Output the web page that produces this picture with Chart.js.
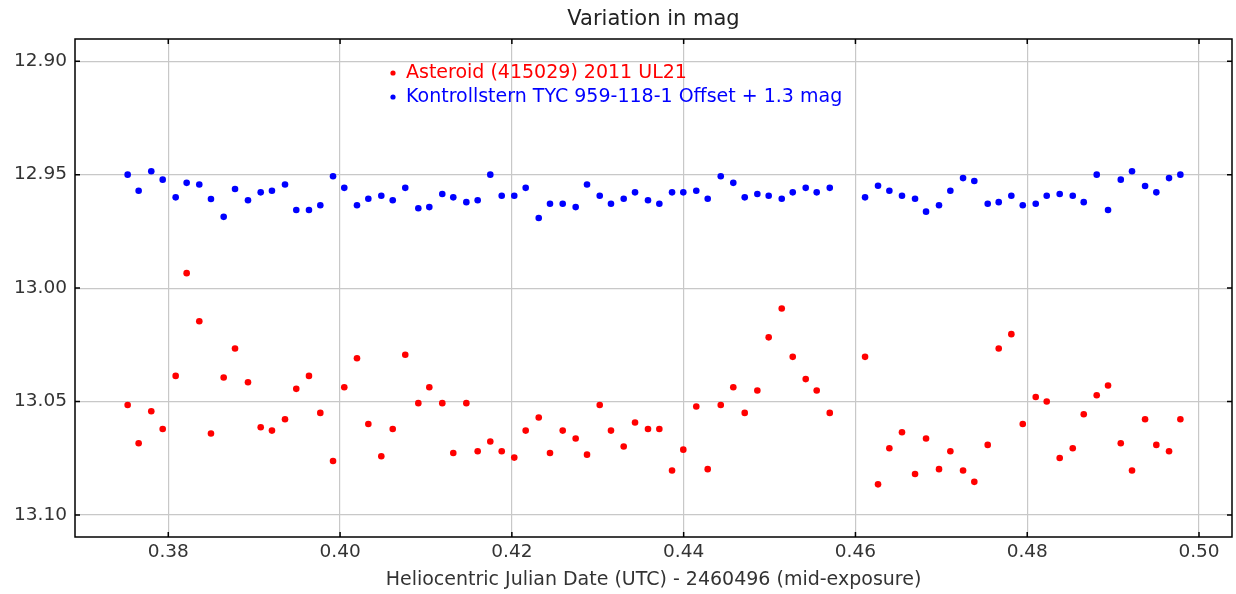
<!DOCTYPE html>
<html>
<head>
<meta charset="utf-8">
<title>Variation in mag</title>
<script src="https://cdn.jsdelivr.net/npm/chart.js@4.4.1/dist/chart.umd.min.js"></script>
<style>
    html, body { margin: 0; padding: 0; background: #fff; }
    #wrap { width: 1236px; height: 594px; }
</style>
</head>
<body>
<div id="wrap"><canvas id="magChart" width="1236" height="594"></canvas></div>
<script>
// HJD - 2460496 (mid-exposure), same for both stars
const hjd = [
    0.37527, 0.37655, 0.37802, 0.37935, 0.38086, 0.38214, 0.38361, 0.38497, 0.38645, 0.38777,
    0.38928, 0.39076, 0.39207, 0.39359, 0.39490, 0.39638, 0.39770, 0.39918, 0.40049, 0.40197,
    0.40329, 0.40480, 0.40613, 0.40759, 0.40911, 0.41039, 0.41190, 0.41318, 0.41470, 0.41602,
    0.41749, 0.41882, 0.42028, 0.42161, 0.42313, 0.42444, 0.42592, 0.42743, 0.42875, 0.43023,
    0.43154, 0.43302, 0.43434, 0.43585, 0.43717, 0.43865, 0.43996, 0.44147, 0.44280, 0.44432,
    0.44578, 0.44711, 0.44858, 0.44990, 0.45142, 0.45270, 0.45421, 0.45549, 0.45701,
    0.46112, 0.46263, 0.46395, 0.46542, 0.46694, 0.46822, 0.46973, 0.47105, 0.47253, 0.47384,
    0.47540, 0.47668, 0.47815, 0.47948, 0.48099, 0.48227, 0.48378, 0.48530, 0.48658, 0.48809,
    0.48941, 0.49089, 0.49220, 0.49372, 0.49503, 0.49651, 0.49783
];

const asteroidMag = [
    13.0515, 13.0684, 13.0543, 13.0621, 13.0387, 12.9934, 13.0146, 13.0641, 13.0394, 13.0266,
    13.0415, 13.0613, 13.0628, 13.0578, 13.0444, 13.0387, 13.0550, 13.0762, 13.0437, 13.0309,
    13.0599, 13.0741, 13.0621, 13.0294, 13.0507, 13.0437, 13.0507, 13.0727, 13.0507, 13.0719,
    13.0676, 13.0719, 13.0747, 13.0628, 13.0570, 13.0727, 13.0628, 13.0663, 13.0734, 13.0515,
    13.0628, 13.0698, 13.0592, 13.0621, 13.0621, 13.0804, 13.0712, 13.0522, 13.0798, 13.0515,
    13.0437, 13.0550, 13.0451, 13.0217, 13.0090, 13.0303, 13.0401, 13.0451, 13.0550,
    13.0303, 13.0865, 13.0706, 13.0635, 13.0819, 13.0663, 13.0798, 13.0719, 13.0804, 13.0854,
    13.0691, 13.0266, 13.0203, 13.0599, 13.0480, 13.0500, 13.0749, 13.0706, 13.0556, 13.0472,
    13.0429, 13.0684, 13.0804, 13.0578, 13.0691, 13.0719, 13.0578
];

// check star, already shifted by +1.3 mag
const checkStarMag = [
    12.9500, 12.9571, 12.9485, 12.9522, 12.9600, 12.9536, 12.9543, 12.9607, 12.9686, 12.9563,
    12.9613, 12.9578, 12.9571, 12.9543, 12.9656, 12.9656, 12.9635, 12.9507, 12.9558, 12.9635,
    12.9606, 12.9593, 12.9613, 12.9558, 12.9648, 12.9643, 12.9585, 12.9600, 12.9621, 12.9613,
    12.9500, 12.9593, 12.9593, 12.9558, 12.9691, 12.9628, 12.9628, 12.9643, 12.9543, 12.9593,
    12.9628, 12.9606, 12.9578, 12.9613, 12.9628, 12.9578, 12.9578, 12.9571, 12.9606, 12.9507,
    12.9536, 12.9600, 12.9585, 12.9593, 12.9606, 12.9578, 12.9558, 12.9578, 12.9558,
    12.9600, 12.9549, 12.9571, 12.9593, 12.9606, 12.9663, 12.9635, 12.9571, 12.9515, 12.9528,
    12.9628, 12.9621, 12.9593, 12.9635, 12.9628, 12.9593, 12.9585, 12.9593, 12.9621, 12.9500,
    12.9656, 12.9522, 12.9485, 12.9550, 12.9578, 12.9515, 12.9500
];

const seriesLabels = ['Asteroid (415029) 2011 UL21', 'Kontrollstern TYC 959-118-1 Offset + 1.3 mag'];
const seriesColors = ['#ff0000', '#0000ff'];

function toPoints(values) {
    return values.map(function(v, i) { return { x: hjd[i], y: v }; });
}

const FONT = '"DejaVu Sans", "Noto Sans", sans-serif';

// black frame round the plot with inward ticks on all four sides
const framePlugin = {
    id: 'frame',
    afterDraw(chart) {
        const ctx = chart.ctx;
        const a = chart.chartArea;
        const xs = chart.scales.x;
        const ys = chart.scales.y;
        const len = 5;
        ctx.save();
        ctx.strokeStyle = '#000';
        ctx.lineWidth = 1.5;
        ctx.strokeRect(a.left, a.top, a.right - a.left, a.bottom - a.top);
        ctx.beginPath();
        xs.ticks.forEach(function(t) {
            const px = xs.getPixelForValue(t.value);
            ctx.moveTo(px, a.bottom); ctx.lineTo(px, a.bottom - len);
            ctx.moveTo(px, a.top); ctx.lineTo(px, a.top + len);
        });
        ys.ticks.forEach(function(t) {
            const py = ys.getPixelForValue(t.value);
            ctx.moveTo(a.left, py); ctx.lineTo(a.left + len, py);
            ctx.moveTo(a.right, py); ctx.lineTo(a.right - len, py);
        });
        ctx.stroke();
        ctx.restore();
    }
};

// legend inside the plot, text in series colour
const innerLegend = {
    id: 'innerLegend',
    afterDraw(chart) {
        const ctx = chart.ctx;
        const a = chart.chartArea;
        ctx.save();
        ctx.font = '19px ' + FONT;
        ctx.textBaseline = 'middle';
        chart.data.datasets.forEach(function(ds, i) {
            const y = a.top + 34 + i * 24;
            ctx.fillStyle = ds.backgroundColor;
            ctx.beginPath();
            ctx.arc(a.left + 318, y, 2.6, 0, Math.PI * 2);
            ctx.fill();
            ctx.fillText(ds.label, a.left + 331, y);
        });
        ctx.restore();
    }
};

const ctx = document.getElementById('magChart').getContext('2d');
const magChart = new Chart(ctx, {
    type: 'scatter',
    data: {
        datasets: [{
            label: seriesLabels[0],
            data: toPoints(asteroidMag),
            backgroundColor: seriesColors[0],
            borderWidth: 0,
            pointRadius: 3.3
        }, {
            label: seriesLabels[1],
            data: toPoints(checkStarMag),
            backgroundColor: seriesColors[1],
            borderWidth: 0,
            pointRadius: 3.3
        }]
    },
    options: {
        responsive: false,
        animation: false,
        layout: {
            padding: { left: 0, right: 4, top: 0, bottom: 0 }
        },
        plugins: {
            legend: { display: false },
            tooltip: { enabled: false },
            title: {
                display: true,
                text: 'Variation in mag',
                fullSize: false,
                color: '#222',
                font: { family: FONT, size: 21, weight: 'normal' },
                padding: { top: 7.4, bottom: 6.4 }
            }
        },
        scales: {
            x: {
                type: 'linear',
                min: 0.36914,
                max: 0.50384,
                afterFit: function(scale) { scale.height = 57; },
                ticks: {
                    stepSize: 0.02,
                    includeBounds: false,
                    color: '#333',
                    padding: 4,
                    font: { family: FONT, size: 18.5 },
                    callback: function(v) { return v.toFixed(2); }
                },
                grid: { color: '#c8c8c8', lineWidth: 1.2, drawTicks: false },
                border: { display: false },
                title: {
                    display: true,
                    text: 'Heliocentric Julian Date (UTC) - 2460496 (mid-exposure)',
                    color: '#333',
                    font: { family: FONT, size: 19 },
                    padding: { top: 4, bottom: 3 }
                }
            },
            y: {
                type: 'linear',
                reverse: true,
                min: 12.8902,
                max: 13.1097,
                afterFit: function(scale) { scale.width = 75; },
                ticks: {
                    stepSize: 0.05,
                    includeBounds: false,
                    color: '#333',
                    padding: 8,
                    font: { family: FONT, size: 18.5 },
                    callback: function(v) { return v.toFixed(2); }
                },
                grid: { color: '#c8c8c8', lineWidth: 1.2, drawTicks: false },
                border: { display: false }
            }
        }
    },
    plugins: [framePlugin, innerLegend]
});
</script>
</body>
</html>
